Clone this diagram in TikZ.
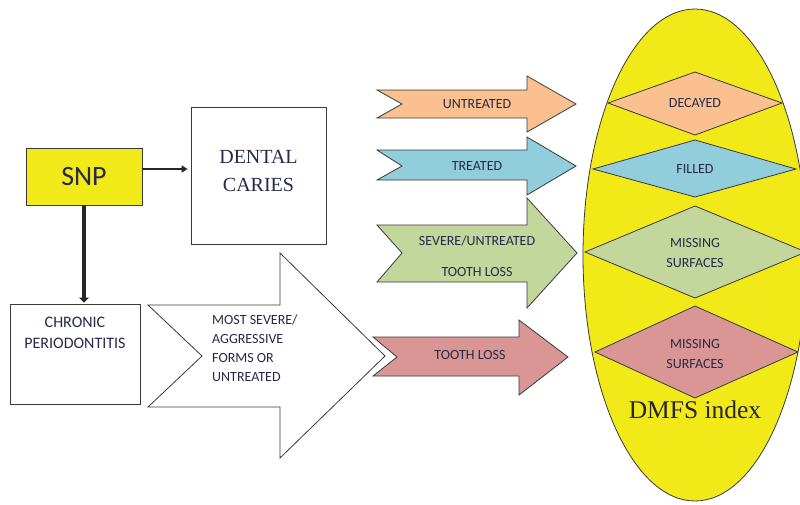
\documentclass[tikz,border=0pt]{standalone}
\usepackage{fontspec}
\setmainfont{Liberation Serif}
\newfontfamily\calib{Carlito}
\usetikzlibrary{arrows.meta}
\definecolor{idxyellow}{HTML}{F2EA18}
\definecolor{cOrange}{HTML}{FAC08F}
\definecolor{cBlue}{HTML}{92CDDC}
\definecolor{cGreen}{HTML}{C3D69B}
\definecolor{cPink}{HTML}{D99694}
\definecolor{ink}{HTML}{262A4A}
\definecolor{edge}{HTML}{3A3A3A}
\begin{document}
\begin{tikzpicture}[x=1pt,y=-1pt,
  outline/.style={draw=edge,line width=0.8pt},
  box/.style={outline,fill=white,inner sep=0pt},
  lbl/.style={font=\calib\fontsize{14}{19}\selectfont,text=ink,inner sep=0pt,align=center},
  serif/.style={font=\fontsize{20}{28}\selectfont,text=ink,inner sep=0pt,align=center},
  link/.style={draw=black!85}]
\useasboundingbox (0,0) rectangle (800,504);
\clip (0,0) rectangle (800,504);

% DMFS index ellipse with its four components
\draw[outline,fill=idxyellow] (695,255) ellipse [x radius=112, y radius=246];
\draw[outline,fill=cOrange] (695,72) -- (782,103) -- (695,135) -- (608,103) -- cycle;
\draw[outline,fill=cBlue]   (695,140) -- (796,169) -- (695,197) -- (593,169) -- cycle;
\draw[outline,fill=cGreen]  (695,206) -- (806,252) -- (695,298) -- (585,252) -- cycle;
\draw[outline,fill=cPink]   (695,306) -- (798,352) -- (695,398) -- (595,352) -- cycle;
\node[lbl] (decayed) at (695,103) {DECAYED};
\node[lbl] (filled) at (695,169) {FILLED};
\node[lbl] (miss1a) at (695,243) {MISSING};
\node[lbl] (miss1b) at (695,263) {SURFACES};
\node[lbl] (miss2a) at (695,344) {MISSING};
\node[lbl] (miss2b) at (695,364) {SURFACES};
\node[font=\fontsize{25.5}{30}\selectfont,text=black!85,inner sep=0pt] (dmfs) at (695,410) {DMFS index};

% Block arrows leading into the index
\draw[outline,fill=cOrange] (377,90) -- (527,90) -- (527,76) -- (576,104) -- (527,132) -- (527,118) -- (377,118) -- (402,104) -- cycle;
\node[lbl] (untreated) at (477,104) {UNTREATED};
\draw[outline,fill=cBlue] (377,150) -- (527,150) -- (527,137) -- (576,166) -- (527,195) -- (527,180) -- (377,180) -- (402,166) -- cycle;
\node[lbl] (treated) at (477,166) {TREATED};
\draw[outline,fill=cGreen] (377,225) -- (527,225) -- (527,198) -- (577,253) -- (527,308) -- (527,282) -- (377,282) -- (402,253) -- cycle;
\node[lbl] (severe) at (477,241) {SEVERE/UNTREATED};
\node[lbl] (loss1) at (477,272) {TOOTH LOSS};
\draw[outline,fill=cPink] (373,337) -- (519,337) -- (519,320) -- (568,357) -- (519,395) -- (519,376) -- (373,376) -- (397,357) -- cycle;
\node[lbl] (loss2) at (470,355) {TOOTH LOSS};

% Large white arrow from periodontitis
\draw[outline,fill=white] (148,305) -- (280,305) -- (280,253) -- (385,356) -- (280,458) -- (280,407) -- (148,407) -- (202,356) -- cycle;
\node[lbl,anchor=west,align=left] (forms) at (212,348) {MOST SEVERE/\\AGGRESSIVE\\FORMS OR\\UNTREATED};

% Source and outcome boxes
\node[outline,fill=idxyellow,minimum width=116pt,minimum height=57pt,inner sep=0pt,
      font=\calib\fontsize{28}{30}\selectfont,text=ink] (snp) at (84,176.5) {SNP};
\node[box,minimum width=135pt,minimum height=137pt] (dental) at (258.5,175.5) {};
\node[serif] (dentaltxt) at (258.5,171) {DENTAL\\CARIES};
\node[box,minimum width=130pt,minimum height=100pt] (chronic) at (75,354) {};
\node[lbl,font=\calib\fontsize{16}{21}\selectfont] (chronictxt) at (75,332.5) {CHRONIC\\PERIODONTITIS};

% Connectors
\coordinate (snpout) at ([yshift=7.5pt]snp.east);
\draw[link,line width=2pt,-{Triangle[length=6pt,width=7pt]},shorten >=3pt] (snpout) -- (snpout -| dental.west);
\draw[link,line width=4pt,-{Triangle[length=5pt,width=10pt]},shorten >=1pt] (snp.south) -- (snp.south |- chronic.north);
\end{tikzpicture}
\end{document}
